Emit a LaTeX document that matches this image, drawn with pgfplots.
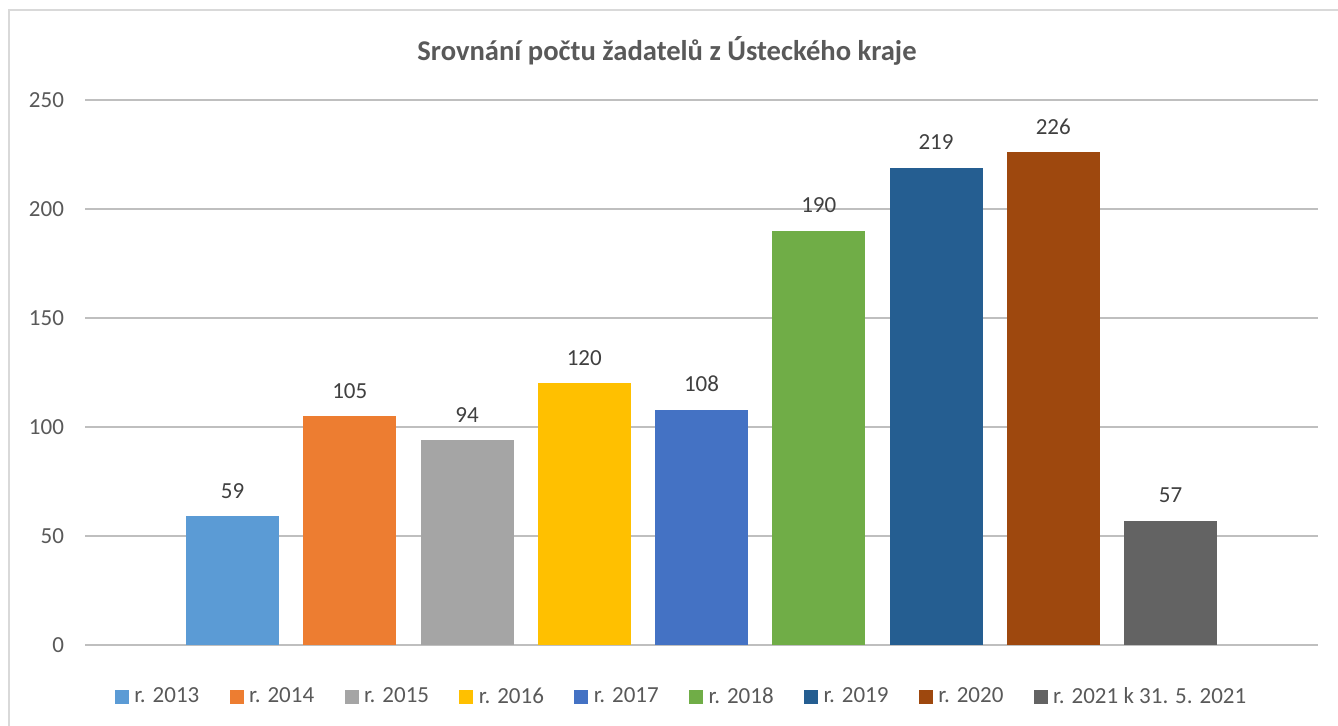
\documentclass[border=0pt]{standalone}
\usepackage{pgfplots}
\pgfplotsset{compat=1.18}
\usepackage{fontspec}
\setmainfont{Carlito}
\definecolor{c1}{HTML}{5B9BD5}
\definecolor{c2}{HTML}{ED7D31}
\definecolor{c3}{HTML}{A5A5A5}
\definecolor{c4}{HTML}{FFC000}
\definecolor{c5}{HTML}{4472C4}
\definecolor{c6}{HTML}{70AD47}
\definecolor{c7}{HTML}{255E91}
\definecolor{c8}{HTML}{9E480E}
\definecolor{c9}{HTML}{636363}
\definecolor{grid}{HTML}{D9D9D9}
\definecolor{txt}{HTML}{595959}
\definecolor{lab}{HTML}{404040}
\begin{document}
\begin{tikzpicture}
\path[use as bounding box] (0,0) rectangle (669pt,363pt);
\draw[grid, line width=0.8pt] (4.5pt,-2pt) -- (4.5pt,358pt) -- (672pt,358pt);
\node[txt, font=\fontsize{14.3}{17}\selectfont\bfseries] at (333.5pt,337.5pt) {Srovnání počtu žadatelů z Ústeckého kraje};
\begin{axis}[
  at={(42.5pt,40.5pt)}, anchor=south west,
  scale only axis, width=616.5pt, height=272.5pt,
  xmin=-1.258, xmax=9.258, ymin=0, ymax=250,
  ytick={0,50,...,250}, xtick=\empty,
  ymajorgrids, grid style={grid, line width=0.75pt},
  axis line style={draw=none}, major tick style={draw=none},
  /pgf/number format/assume math mode=true,
  yticklabel style={txt, font=\fontsize{11.5}{13}\selectfont, xshift=-7pt},
  ybar, bar width=46.5pt, bar shift=0pt,
  every axis plot/.append style={draw=none},
  nodes near coords,
  nodes near coords style={lab, font=\fontsize{11.5}{13}\selectfont, anchor=base, yshift=9pt},
  legend columns=9,
  legend style={draw=none, fill=none, at={(0.484,-0.0954)}, anchor=center,
    font=\fontsize{11.5}{13}\selectfont, text=txt,
    /tikz/every odd column/.append style={column sep=1.5pt},
    /tikz/every even column/.append style={column sep=14pt},
    nodes={inner sep=1.2pt}},
  legend image code/.code={\fill[#1] (0pt,-3.5pt) rectangle (7pt,3.5pt);},
]
\addplot[fill=c1] coordinates {(0,59)};
\addplot[fill=c2] coordinates {(1,105)};
\addplot[fill=c3] coordinates {(2,94)};
\addplot[fill=c4] coordinates {(3,120)};
\addplot[fill=c5] coordinates {(4,108)};
\addplot[fill=c6] coordinates {(5,190)};
\addplot[fill=c7] coordinates {(6,219)};
\addplot[fill=c8] coordinates {(7,226)};
\addplot[fill=c9] coordinates {(8,57)};
\legend{r. 2013, r. 2014, r. 2015, r. 2016, r. 2017, r. 2018, r. 2019, r. 2020, r. 2021 k 31. 5. 2021}
\end{axis}
\end{tikzpicture}
\end{document}
